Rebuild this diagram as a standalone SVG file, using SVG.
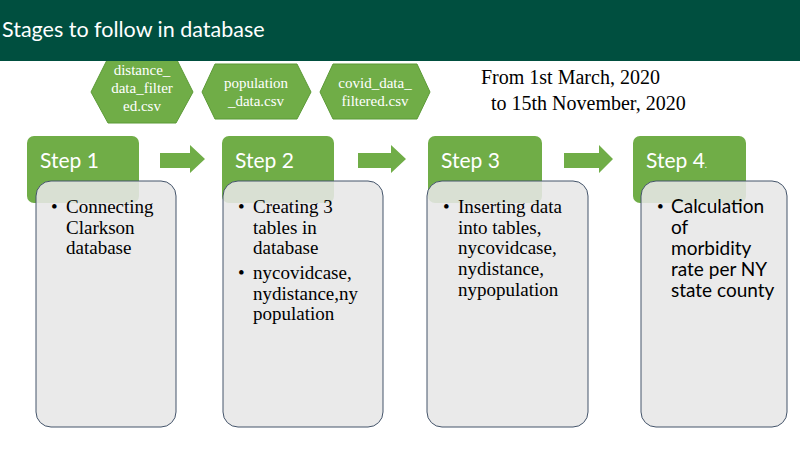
<svg xmlns="http://www.w3.org/2000/svg" width="800" height="450" viewBox="0 0 800 450">
<style>
.hdr{fill:#70AD47}
.box{fill:#E7E7E7;fill-opacity:0.88;stroke:#44546A;stroke-width:1}
.hex{fill:#70AD47;stroke:#5B9A36;stroke-width:1}
.hext{font-family:"Liberation Serif",serif;font-size:15px;fill:#FFFFFF;text-anchor:middle}
.step{font-family:Lato,"Open Sans",sans-serif;font-size:21px;fill:#FFFFFF}
.ser{font-family:"Liberation Serif",serif;font-size:19px;fill:#000000}
.sans{font-family:Lato,"Open Sans",sans-serif;font-size:19px;fill:#000000}
.bul{font-family:"Liberation Serif",serif;font-size:19px;fill:#000000}
.arr{fill:#70AD47}
</style>
<rect x="0" y="0" width="800" height="450" fill="#FFFFFF"/>
<g id="hex1">
<polygon class="hex" points="91,92 108,58 176,58 193,92 176,123 108,123"/>
</g>
<rect id="header" x="0" y="0" width="800" height="61" fill="#004F3F"/>
<text x="2" y="37" font-family="Lato,'Open Sans',sans-serif" font-size="21.5" fill="#FFFFFF">Stages to follow in database</text>
<g id="hex1-label">
<text class="hext" x="142" y="75">distance_</text>
<text class="hext" x="142" y="93">data_filter</text>
<text class="hext" x="142" y="111">ed.csv</text>
</g>
<g id="hex2">
<polygon class="hex" points="202,92 215,64 297,64 311,92 297,119 215,119"/>
<text class="hext" x="256" y="88">population</text>
<text class="hext" x="256" y="106">_data.csv</text>
</g>
<g id="hex3">
<polygon class="hex" points="320,92 333,64 417,64 430,92 417,119 333,119"/>
<text class="hext" x="375" y="88">covid_data_</text>
<text class="hext" x="375" y="106">filtered.csv</text>
</g>
<g id="dates">
<text x="481" y="84" font-family="'Liberation Serif',serif" font-size="20" fill="#000000">From 1st March, 2020</text>
<text x="491" y="110" font-family="'Liberation Serif',serif" font-size="20" fill="#000000">to 15th November, 2020</text>
</g>
<g id="connectors">
<polygon class="arr" points="160,153 190,153 190,145 205,159 190,173 190,168 160,168"/>
<polygon class="arr" points="358,153 391,153 391,145 406,159 391,173 391,168 358,168"/>
<polygon class="arr" points="564,153 599,153 599,145 613,159 599,173 599,168 564,168"/>
</g>
<g id="step1">
<rect class="hdr" x="27" y="136" width="112" height="67" rx="7"/>
<text class="step" x="40" y="168">Step 1</text>
<rect class="box" x="36" y="181" width="140" height="246" rx="15"/>
<text class="bul" x="51" y="213">•</text>
<text class="ser" x="66" y="213">Connecting</text>
<text class="ser" x="66" y="234">Clarkson</text>
<text class="ser" x="66" y="254">database</text>
</g>
<g id="step2">
<rect class="hdr" x="222" y="136" width="112" height="67" rx="7"/>
<text class="step" x="235" y="168">Step 2</text>
<rect class="box" x="223" y="181" width="160" height="246" rx="15"/>
<text class="bul" x="238" y="213">•</text>
<text class="ser" x="253" y="213">Creating 3</text>
<text class="ser" x="253" y="234">tables in</text>
<text class="ser" x="253" y="254">database</text>
<text class="bul" x="238" y="279">•</text>
<text class="ser" x="253" y="279">nycovidcase,</text>
<text class="ser" x="253" y="300">nydistance,ny</text>
<text class="ser" x="253" y="320">population</text>
</g>
<g id="step3">
<rect class="hdr" x="428" y="136" width="114" height="67" rx="7"/>
<text class="step" x="441" y="168">Step 3</text>
<rect class="box" x="427" y="181" width="161" height="246" rx="15"/>
<text class="bul" x="443" y="213">•</text>
<text class="ser" x="458" y="213">Inserting data</text>
<text class="ser" x="458" y="234">into tables,</text>
<text class="ser" x="458" y="254">nycovidcase,</text>
<text class="ser" x="458" y="275">nydistance,</text>
<text class="ser" x="458" y="296">nypopulation</text>
</g>
<g id="step4">
<rect class="hdr" x="633" y="136" width="113" height="67" rx="7"/>
<text class="step" x="646" y="168">Step 4<tspan font-size="9">.</tspan></text>
<rect class="box" x="641" y="181" width="146" height="246" rx="15"/>
<text class="bul" x="657" y="213">•</text>
<text class="sans" x="671" y="213">Calculation</text>
<text class="sans" x="671" y="234">of</text>
<text class="sans" x="671" y="255">morbidity</text>
<text class="sans" x="671" y="276">rate per NY</text>
<text class="sans" x="671" y="297">state county</text>
</g>
</svg>
